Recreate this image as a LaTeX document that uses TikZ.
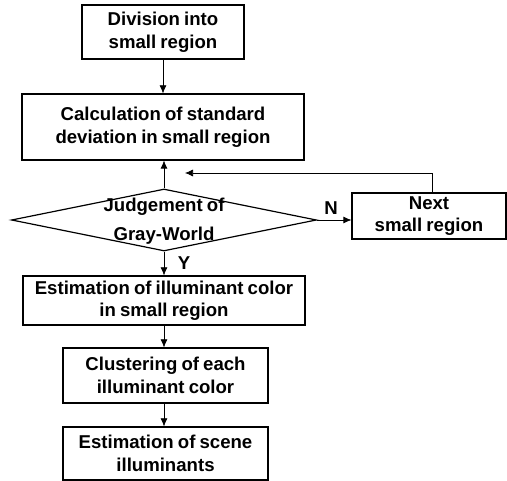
\documentclass[tikz,border=0pt]{standalone}
\usepackage{fontspec}
\setmainfont{Liberation Sans}[WordSpace=0.8]
\usetikzlibrary{shapes.geometric,arrows.meta}
\begin{document}
\begin{tikzpicture}[x=1pt,y=-1pt,
  txt/.style={font=\bfseries\fontsize{18.6}{22.5}\selectfont, align=center},
  box/.style={txt, draw, line width=1.2pt, rectangle, inner sep=0pt},
  arr/.style={-{Latex[length=8pt,width=7pt]}, line width=0.7pt},
  lbl/.style={font=\bfseries\fontsize{18.6}{20}\selectfont, inner sep=0pt}]
\useasboundingbox (0,0) rectangle (507,481);
\node[box, minimum width=162pt, minimum height=54pt] (b1) at (163,32) {Division into\\small region};
\node[box, minimum width=282pt, minimum height=66pt] (b2) at (163,127) {Calculation of standard\\deviation in small region};
\node[diamond, draw, line width=1.2pt, minimum width=305pt, minimum height=62pt, inner sep=0pt] (dia) at (164,220) {};
\node[txt, inner sep=0pt] (diat) at (164,221) {Judgement of\\[6pt]Gray-World};
\node[box, minimum width=154pt, minimum height=46pt] (nx) at (429,216) {Next\\small region};
\node[box, minimum width=282pt, minimum height=49pt] (b3) at (164,300.5) {Estimation of illuminant color\\in small region};
\node[box, minimum width=205pt, minimum height=55pt] (b4) at (165.5,375.5) {Clustering of each\\illuminant color};
\node[box, minimum width=205pt, minimum height=53pt] (b5) at (165.5,453.5) {Estimation of scene\\illuminants};
\coordinate (rc) at (432,173);
\coordinate (re) at (185,173);
\draw[arr] (b1.south -| 163,0) -- (b2.north -| 163,0);
\draw[arr] (dia.north) -- (dia.north |- b2.south);
\draw[arr] (dia.east) -- (dia.east -| nx.west);
\draw[arr] (nx.north -| rc) -- (rc) -- (re);
\draw[arr] (dia.south) -- (dia.south |- b3.north);
\draw[arr] (b3.south -| 164,0) -- (b4.north -| 164,0);
\draw[arr] (b4.south -| 164,0) -- (b5.north -| 164,0);
\node[lbl] (n) at (331,208) {N};
\node[lbl] (y) at (184,263) {Y};
\end{tikzpicture}
\end{document}
